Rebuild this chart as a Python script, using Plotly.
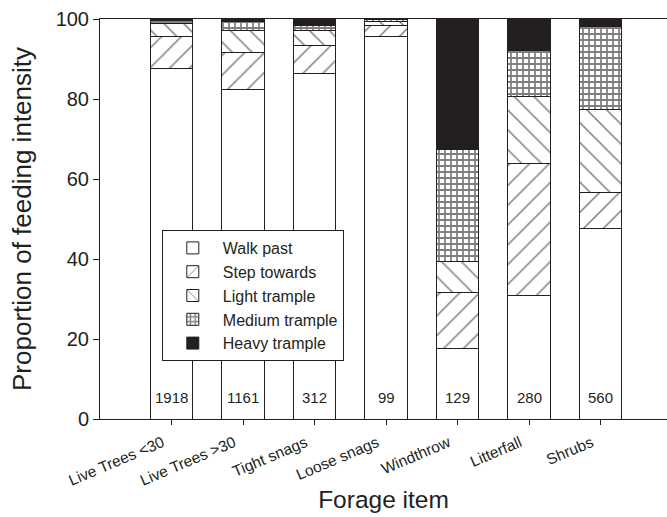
import plotly.graph_objects as go

categories = ["Live Trees <30", "Live Trees >30", "Tight snags", "Loose snags",
              "Windthrow", "Litterfall", "Shrubs"]
walk_past = [87.7, 82.4, 86.4, 95.7, 17.7, 30.8, 47.7]
step_towards = [8.0, 9.3, 7.1, 2.6, 14.0, 33.2, 9.0]
light_trample = [3.2, 5.4, 3.6, 1.0, 7.8, 16.6, 20.7]
medium_trample = [0.8, 2.2, 1.4, 0.5, 27.8, 11.5, 20.7]
heavy_trample = [0.3, 0.7, 1.5, 0.2, 32.7, 7.9, 1.9]
counts = ["1918", "1161", "312", "99", "129", "280", "560"]
y_ticks = [0, 20, 40, 60, 80, 100]

INK = "#231f20"
FONT = "Liberation Sans, Arial, sans-serif"

series = [
    ("Walk past", walk_past, dict(color="white")),
    ("Step towards", step_towards, dict(color="white", pattern=dict(shape="/", fgcolor="black", bgcolor="white", size=14, solidity=0.11))),
    ("Light trample", light_trample, dict(color="white", pattern=dict(shape="\\", fgcolor="black", bgcolor="white", size=14, solidity=0.11))),
    ("Medium trample", medium_trample, dict(color="white", pattern=dict(shape="+", fgcolor="black", bgcolor="white", size=6, solidity=0.5))),
    ("Heavy trample", heavy_trample, dict(color=INK)),
]

fig = go.Figure()
for name, vals, mk in series:
    mk = dict(mk)
    mk["line"] = dict(color=INK, width=1)
    fig.add_trace(go.Bar(x=categories, y=vals, name=name, marker=mk, width=0.6))

for c, n in zip(categories, counts):
    fig.add_annotation(x=c, y=5.5, text=n, showarrow=False,
                       font=dict(family=FONT, size=15, color=INK))

fig.update_layout(
    width=667, height=517,
    margin=dict(l=100, r=0, t=19, b=98, autoexpand=False),
    barmode="stack",
    plot_bgcolor="white", paper_bgcolor="white",
    font=dict(family=FONT, color=INK),
    legend=dict(x=0.109, y=0.4725, xanchor="left", yanchor="top",
                bgcolor="white", bordercolor=INK, borderwidth=1, itemwidth=50,
                traceorder="normal", font=dict(family=FONT, size=16, color=INK)),
    xaxis=dict(range=[-1, 6.93], showline=True, linecolor=INK, linewidth=1, mirror=True,
               ticks="outside", ticklen=5, tickcolor=INK, tickangle=-23,
               ticklabelshift=-9, ticklabelstandoff=3,
               tickfont=dict(family=FONT, size=15.5, color=INK), showgrid=False,
               title=dict(text="Forage item", font=dict(family=FONT, size=24.5, color=INK), standoff=3)),
    yaxis=dict(range=[0, 100], tickvals=y_ticks, showline=True, linecolor=INK, linewidth=1,
               ticks="outside", ticklen=6, tickcolor=INK, showgrid=False, zeroline=False,
               tickfont=dict(family=FONT, size=20, color=INK),
               title=dict(text="Proportion of feeding intensity", font=dict(family=FONT, size=26, color=INK), standoff=16)),
)

fig.write_html("out.html")
